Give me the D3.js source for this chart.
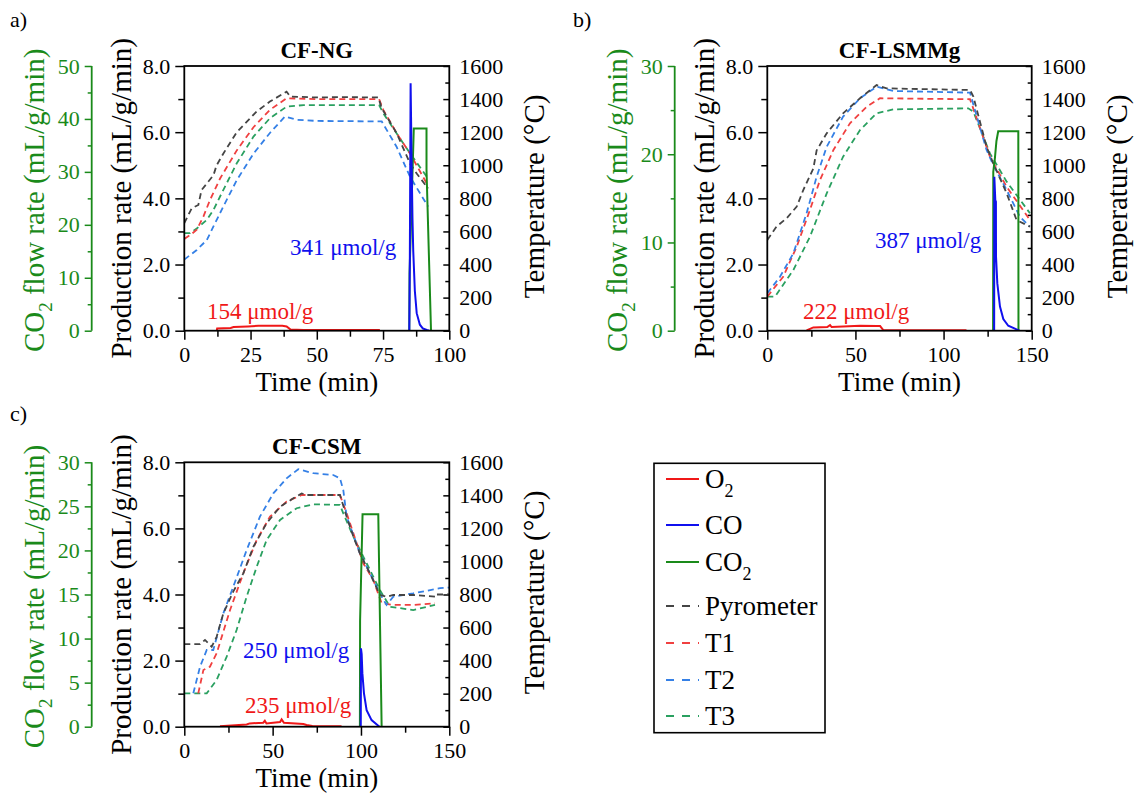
<!DOCTYPE html>
<html><head><meta charset="utf-8">
<script src="https://cdn.jsdelivr.net/npm/d3@7"></script>
<style>
html,body{margin:0;padding:0;background:#fff;}
svg{display:block;}
</style></head><body>
<svg id="chart" width="1135" height="796"></svg>
<script>
// ---------------- DATA ----------------
const panelTitles = ["CF-NG", "CF-LSMMg", "CF-CSM"];
const panelLetters = ["a)", "b)", "c)"];
const legendLabels = ["O2", "CO", "CO2", "Pyrometer", "T1", "T2", "T3"];

// tick labels
const prodTicks = [0, 2, 4, 6, 8];
const prodMinor = [1, 3, 5, 7];
const tempTicks = [0, 200, 400, 600, 800, 1000, 1200, 1400, 1600];
const tempMinor = [100, 300, 500, 700, 900, 1100, 1300, 1500];
const ngTimeTicks = [0, 25, 50, 75, 100];
const ngTimeMinor = [12.5, 37.5, 62.5, 87.5];
const longTimeTicks = [0, 50, 100, 150];
const longTimeMinor = [25, 75, 125];
const ngCO2Ticks = [0, 10, 20, 30, 40, 50];
const ngCO2Minor = [5, 15, 25, 35, 45];
const lsmCO2Ticks = [0, 10, 20, 30];
const lsmCO2Minor = [5, 15, 25];
const csmCO2Ticks = [0, 5, 10, 15, 20, 25, 30];
const csmCO2Minor = [2.5, 7.5, 12.5, 17.5, 22.5, 27.5];

// annotations (integrated amounts)
const ngCOAmount = "341 μmol/g", ngO2Amount = "154 μmol/g";
const lsmCOAmount = "387 μmol/g", lsmO2Amount = "222 μmol/g";
const csmCOAmount = "250 μmol/g", csmO2Amount = "235 μmol/g";

// ---- Panel a: CF-NG  [time (min), value] ----
const ngPyrometer = [[0,650],[2.8,740],[5.3,760],[6.5,850],[8.5,890],[11,940],[12.2,1000],[14.7,1070],[19.8,1200],[27.3,1325],[32.3,1385],[38.6,1445],[40,1415],[50,1410],[60,1412],[73.2,1410],[74.5,1345],[80.1,1195],[85.2,1010],[87.7,950],[92,860]];
const ngT1 = [[0,555],[2.2,578],[4.7,610],[7.2,690],[9.7,790],[13.5,920],[19.8,1090],[26.1,1230],[32.3,1335],[38.6,1405],[50,1400],[73.5,1400],[75.1,1335],[80.1,1195],[85.2,1070],[91.5,890]];
const ngT2 = [[0,430],[4.7,488],[8.5,548],[11,630],[14.7,750],[19.8,910],[26.1,1070],[32.3,1195],[38,1295],[42.4,1275],[50,1268],[74.5,1265],[80.1,1112],[85.2,930],[92,750]];
const ngT3 = [[0,590],[2.2,590],[4.7,618],[8.5,670],[11,730],[14.7,850],[19.8,1012],[26.1,1173],[32.3,1284],[38.6,1354],[45,1364],[73.5,1364],[75.1,1314],[80.1,1193],[85.2,1072],[92,920]];
const ngCO2 = [[84.9,0],[85.0,10.8],[86.6,38.2],[91.4,38.2],[91.4,30.4],[93.1,0]];
const ngCO = [[84.9,0],[85.1,2.0],[85.4,7.48],[85.8,5.0],[86.1,3.4],[86.4,2.4],[87.0,1.2],[87.7,0.53],[88.9,0.18],[90,0.07],[91.5,0.02],[92.5,0]];
const ngO2 = [[12.3,0.02],[12.4,0.07],[17.5,0.08],[18.6,0.11],[24,0.13],[28,0.15],[37,0.15],[38.6,0.13],[40,0.04],[45,0.02],[73.8,0.02]];

// ---- Panel b: CF-LSMMg ----
const lsmPyrometer = [[0,548],[5.3,630],[11,680],[16.7,750],[20.4,850],[26.1,980],[28,1090],[33.7,1193],[43,1314],[52.6,1405],[62,1485],[67.7,1465],[90,1460],[115,1455],[116.9,1415],[124.4,1112],[128.2,1012],[135.8,830],[141.4,669],[149,629]];
const lsmT1 = [[0,206],[9,326],[16.7,508],[24.2,730],[29.9,911],[37.5,1092],[46.9,1254],[56.4,1354],[63.9,1405],[115,1399],[117.8,1314],[126.3,1052],[135.8,870],[149,669]];
const lsmT2 = [[0,226],[7.2,326],[14.8,468],[22.3,710],[28,931],[33.7,1112],[43,1294],[52.6,1405],[62,1475],[71.5,1449],[115,1439],[117.8,1334],[124.4,1092],[128.2,1002],[135.8,850],[143.3,689],[149,629]];
const lsmT3 = [[0,206],[4.4,206],[14.8,367],[24.2,568],[33.7,830],[43,1052],[52.6,1213],[62,1314],[71.5,1338],[114,1344],[116.9,1324],[126.3,1072],[135.8,901],[149,710]];
const lsmCO2 = [[128.1,0],[128.2,18],[129.1,19.5],[130,21.5],[131,22.6],[142.4,22.6],[142.5,0]];
const lsmCO = [[128.7,0],[128.8,4.65],[129.35,3.95],[129.7,3.9],[129.75,2.24],[130.5,1.43],[132,0.73],[133.9,0.35],[136.7,0.15],[141.4,0.04],[143,0]];
const lsmO2 = [[22.3,0.01],[26.1,0.1],[34,0.11],[35.6,0.17],[36.5,0.11],[43,0.13],[52.6,0.15],[62,0.14],[64,0.14],[65.8,0.02],[113,0.01]];

// ---- Panel c: CF-CSM ----
const csmPyrometer = [[0,500],[8.9,500],[11.7,525],[15.5,484],[18.3,544],[22.1,686],[27.7,817],[33.4,928],[39.1,1089],[46.6,1231],[54.2,1331],[61.7,1382],[66.4,1412],[69.2,1402],[88.1,1402],[91.9,1271],[95.7,1150],[99.4,1049],[105.1,928],[110.7,797],[114.5,787],[118.3,797],[129.6,797],[141.9,787],[142,800],[150,800]];
const csmT1 = [[7.9,202],[10.8,343],[14.5,363],[18.3,444],[25.9,706],[33.4,928],[41,1130],[48.5,1271],[57.9,1362],[66.4,1402],[88.1,1402],[91.9,1291],[95.7,1170],[101.3,989],[107,888],[111.7,747],[118.3,737],[129.6,737],[141.9,747]];
const csmT2 = [[5.1,202],[8.9,363],[12.7,464],[16.4,464],[22.1,686],[27.7,847],[35.3,1069],[42.8,1271],[50.4,1412],[57.9,1503],[64.5,1558],[73,1534],[84.3,1523],[88.1,1503],[90,1432],[91.9,1271],[99.4,1049],[105.1,928],[111.7,787],[114.5,737],[118.3,787],[129.6,807],[144.7,838],[150,842]];
const csmT3 = [[0,202],[12.7,202],[18.3,283],[24,424],[29.6,585],[35.3,787],[41,968],[46.6,1130],[54.2,1251],[63.6,1322],[73,1346],[88.1,1342],[90,1291],[95.7,1150],[103.2,989],[110.7,827],[116.4,726],[129.6,706],[141.9,737]];
const csmCO2 = [[99.4,0],[99.5,12],[100.9,24.1],[109.8,24.1],[111.7,0]];
const csmCO = [[99.9,0],[100,2.37],[100.4,2.2],[100.8,1.62],[101.7,1.01],[103.2,0.5],[106,0.2],[109.8,0.03],[110.5,0]];
const csmO2 = [[20.2,0.01],[35.3,0.07],[37,0.1],[44.7,0.12],[45.6,0.18],[46.5,0.1],[54.2,0.14],[55.1,0.22],[56.4,0.12],[67.4,0.08],[69.2,0.05],[72.5,0.02],[89,0.01]];

// ---------------- STYLE ----------------
const C = {
  o2: "#f01818", co: "#1010ee", co2: "#1a8a1a",
  pyro: "#454545", t1: "#f04040", t2: "#3580e6", t3: "#2aa060",
  axisGreen: "#1a8a1a"
};
const FONT = '"Liberation Serif","Times New Roman",serif';

const svg = d3.select("#chart").attr("font-family", FONT);

function styleAxis(g, size, color) {
  g.select(".domain").remove();
  g.attr("font-family", FONT);
  g.selectAll("text").attr("font-size", size).attr("font-family", FONT).attr("fill", color || "#000");
  g.selectAll("line").attr("stroke", color || "#000").attr("stroke-width", 1.5);
}

function txt(parent) {
  return parent.append("text").attr("font-family", FONT);
}

function drawPanel(p) {
  const x = d3.scaleLinear().domain(p.xDomain).range([p.left, p.right]);
  const yProd = d3.scaleLinear().domain([0, 8]).range([p.bottom, p.top]);
  const yTemp = d3.scaleLinear().domain([0, 1600]).range([p.bottom, p.top]);
  const yCO2 = d3.scaleLinear().domain([0, p.co2Max]).range([p.bottom, p.top]);
  const g = svg.append("g");

  const clipId = "clip" + p.id;
  svg.append("clipPath").attr("id", clipId).append("rect")
    .attr("x", p.left).attr("y", p.top - 2).attr("width", p.right - p.left).attr("height", p.bottom - p.top + 2);

  // bottom axis
  g.append("g").attr("transform", `translate(0,${p.bottom})`)
    .call(d3.axisBottom(x).tickValues(p.xTicks).tickSize(9).tickPadding(7).tickFormat(d3.format("d")))
    .call(s => styleAxis(s, 22));
  g.append("g").attr("transform", `translate(0,${p.bottom})`)
    .call(d3.axisBottom(x).tickValues(p.xMinor).tickSize(6).tickFormat(""))
    .call(s => styleAxis(s, 22));
  // left production axis
  g.append("g").attr("transform", `translate(${p.left},0)`)
    .call(d3.axisLeft(yProd).tickValues(prodTicks).tickSize(9).tickPadding(5).tickFormat(d3.format(".1f")))
    .call(s => styleAxis(s, 22));
  g.append("g").attr("transform", `translate(${p.left},0)`)
    .call(d3.axisLeft(yProd).tickValues(prodMinor).tickSize(6).tickFormat(""))
    .call(s => styleAxis(s, 22));
  // right temperature axis (ticks inward)
  g.append("g").attr("transform", `translate(${p.right},0)`)
    .call(d3.axisRight(yTemp).tickValues(tempTicks).tickSize(-6).tickPadding(10).tickFormat(d3.format("d")))
    .call(s => styleAxis(s, 22));
  g.append("g").attr("transform", `translate(${p.right},0)`)
    .call(d3.axisRight(yTemp).tickValues(tempMinor).tickSize(-4).tickFormat(""))
    .call(s => styleAxis(s, 22));
  // green CO2 axis
  g.append("line").attr("x1", p.greenX).attr("x2", p.greenX).attr("y1", p.top).attr("y2", p.bottom)
    .attr("stroke", C.axisGreen).attr("stroke-width", 1.8);
  g.append("g").attr("transform", `translate(${p.greenX},0)`)
    .call(d3.axisLeft(yCO2).tickValues(p.co2Ticks).tickSize(7).tickPadding(5).tickFormat(d3.format("d")))
    .call(s => styleAxis(s, 22, C.axisGreen));
  g.append("g").attr("transform", `translate(${p.greenX},0)`)
    .call(d3.axisLeft(yCO2).tickValues(p.co2Minor).tickSize(4).tickFormat(""))
    .call(s => styleAxis(s, 22, C.axisGreen));

  // series
  const lines = g.append("g").attr("clip-path", `url(#${clipId})`);
  const mk = (scale) => d3.line().x(d => x(d[0])).y(d => scale(d[1]));
  const dashed = [
    [p.t3, C.t3], [p.t1, C.t1], [p.t2, C.t2], [p.pyro, C.pyro]
  ];
  dashed.forEach(([data, col]) => {
    lines.append("path").attr("d", mk(yTemp)(data)).attr("fill", "none")
      .attr("stroke", col).attr("stroke-width", 1.8).attr("stroke-dasharray", "6,4");
  });
  lines.append("path").attr("d", mk(yProd)(p.o2)).attr("fill", "none").attr("stroke", C.o2).attr("stroke-width", 2);
  lines.append("path").attr("d", mk(yCO2)(p.co2)).attr("fill", "none").attr("stroke", C.co2).attr("stroke-width", 2);
  lines.append("path").attr("d", mk(yProd)(p.co)).attr("fill", "none").attr("stroke", C.co).attr("stroke-width", 2);

  // frame
  g.append("rect").attr("x", p.left).attr("y", p.top).attr("width", p.right - p.left).attr("height", p.bottom - p.top)
    .attr("fill", "none").attr("stroke", "#000").attr("stroke-width", 1.8);

  // annotations
  txt(g).attr("x", p.coText[0]).attr("y", p.coText[1]).text(p.coAmount)
    .attr("font-size", 23).attr("fill", C.co);
  txt(g).attr("x", p.o2Text[0]).attr("y", p.o2Text[1]).text(p.o2Amount)
    .attr("font-size", 23).attr("fill", C.o2);

  // titles
  const cx = (p.left + p.right) / 2, cy = (p.top + p.bottom) / 2;
  txt(g).attr("x", cx).attr("y", p.top - 8).attr("text-anchor", "middle")
    .attr("font-size", 23).attr("font-weight", "bold").text(p.title);
  txt(g).attr("x", cx).attr("y", p.bottom + 60).attr("text-anchor", "middle")
    .attr("font-size", 27).text("Time (min)");
  txt(g).attr("transform", `translate(${p.left - 53},${cy}) rotate(-90)`).attr("text-anchor", "middle")
    .attr("font-size", 29).text("Production rate (mL/g/min)");
  txt(g).attr("transform", `translate(${p.right + 95},${cy - 2}) rotate(-90)`).attr("text-anchor", "middle")
    .attr("font-size", 29).text("Temperature (°C)");
  const gt = txt(g).attr("transform", `translate(${p.greenX - 48},${cy + 2}) rotate(-90)`).attr("text-anchor", "middle")
    .attr("font-size", 29).attr("fill", C.axisGreen);
  gt.append("tspan").text("CO");
  gt.append("tspan").attr("font-size", 19).attr("dy", 8).text("2");
  gt.append("tspan").attr("dy", -8).text(" flow rate (mL/g/min)");

  // panel letter
  txt(g).attr("x", p.letterPos[0]).attr("y", p.letterPos[1]).attr("font-size", 22).text(p.letter);
}

const panels = [
  { id: "a", title: panelTitles[0], letter: panelLetters[0], letterPos: [10, 27],
    left: 184.3, right: 449.3, top: 66, bottom: 330.7, greenX: 91.7,
    xDomain: [0, 100], xTicks: ngTimeTicks, xMinor: ngTimeMinor,
    co2Max: 50, co2Ticks: ngCO2Ticks, co2Minor: ngCO2Minor,
    pyro: ngPyrometer, t1: ngT1, t2: ngT2, t3: ngT3, co2: ngCO2, co: ngCO, o2: ngO2,
    coAmount: ngCOAmount, o2Amount: ngO2Amount, coText: [290, 255], o2Text: [207, 319] },
  { id: "b", title: panelTitles[1], letter: panelLetters[1], letterPos: [573, 27],
    left: 767.3, right: 1031.7, top: 66, bottom: 330.7, greenX: 674.7,
    xDomain: [0, 150], xTicks: longTimeTicks, xMinor: longTimeMinor,
    co2Max: 30, co2Ticks: lsmCO2Ticks, co2Minor: lsmCO2Minor,
    pyro: lsmPyrometer, t1: lsmT1, t2: lsmT2, t3: lsmT3, co2: lsmCO2, co: lsmCO, o2: lsmO2,
    coAmount: lsmCOAmount, o2Amount: lsmO2Amount, coText: [875, 248], o2Text: [803, 319] },
  { id: "c", title: panelTitles[2], letter: panelLetters[2], letterPos: [10, 421],
    left: 184.3, right: 449.3, top: 462.3, bottom: 726.7, greenX: 91.7,
    xDomain: [0, 150], xTicks: longTimeTicks, xMinor: longTimeMinor,
    co2Max: 30, co2Ticks: csmCO2Ticks, co2Minor: csmCO2Minor,
    pyro: csmPyrometer, t1: csmT1, t2: csmT2, t3: csmT3, co2: csmCO2, co: csmCO, o2: csmO2,
    coAmount: csmCOAmount, o2Amount: csmO2Amount, coText: [243, 658], o2Text: [245, 713] }
];
panels.forEach(drawPanel);

// ---------------- LEGEND ----------------
const legendColors = [C.o2, C.co, C.co2, C.pyro, C.t1, C.t2, C.t3];
const legendDashed = [false, false, false, true, true, true, true];
const legendRowY = [479, 525, 562, 606, 643, 680, 716];
const lg = svg.append("g");
lg.append("rect").attr("x", 654).attr("y", 463.3).attr("width", 171).attr("height", 269.4)
  .attr("fill", "#fff").attr("stroke", "#000").attr("stroke-width", 1.6);
legendLabels.forEach((lab, i) => {
  const y = legendRowY[i];
  lg.append("line").attr("x1", 666).attr("x2", 699).attr("y1", y).attr("y2", y)
    .attr("stroke", legendColors[i]).attr("stroke-width", 2)
    .attr("stroke-dasharray", legendDashed[i] ? "8,8" : null);
  const t = txt(lg).attr("x", 705).attr("y", y + 9).attr("font-size", 27);
  if (lab === "O2" || lab === "CO2") {
    t.append("tspan").text(lab.slice(0, -1));
    t.append("tspan").attr("font-size", 18).attr("dy", 9).text(lab.slice(-1));
  } else {
    t.text(lab);
  }
});
</script>
</body></html>
